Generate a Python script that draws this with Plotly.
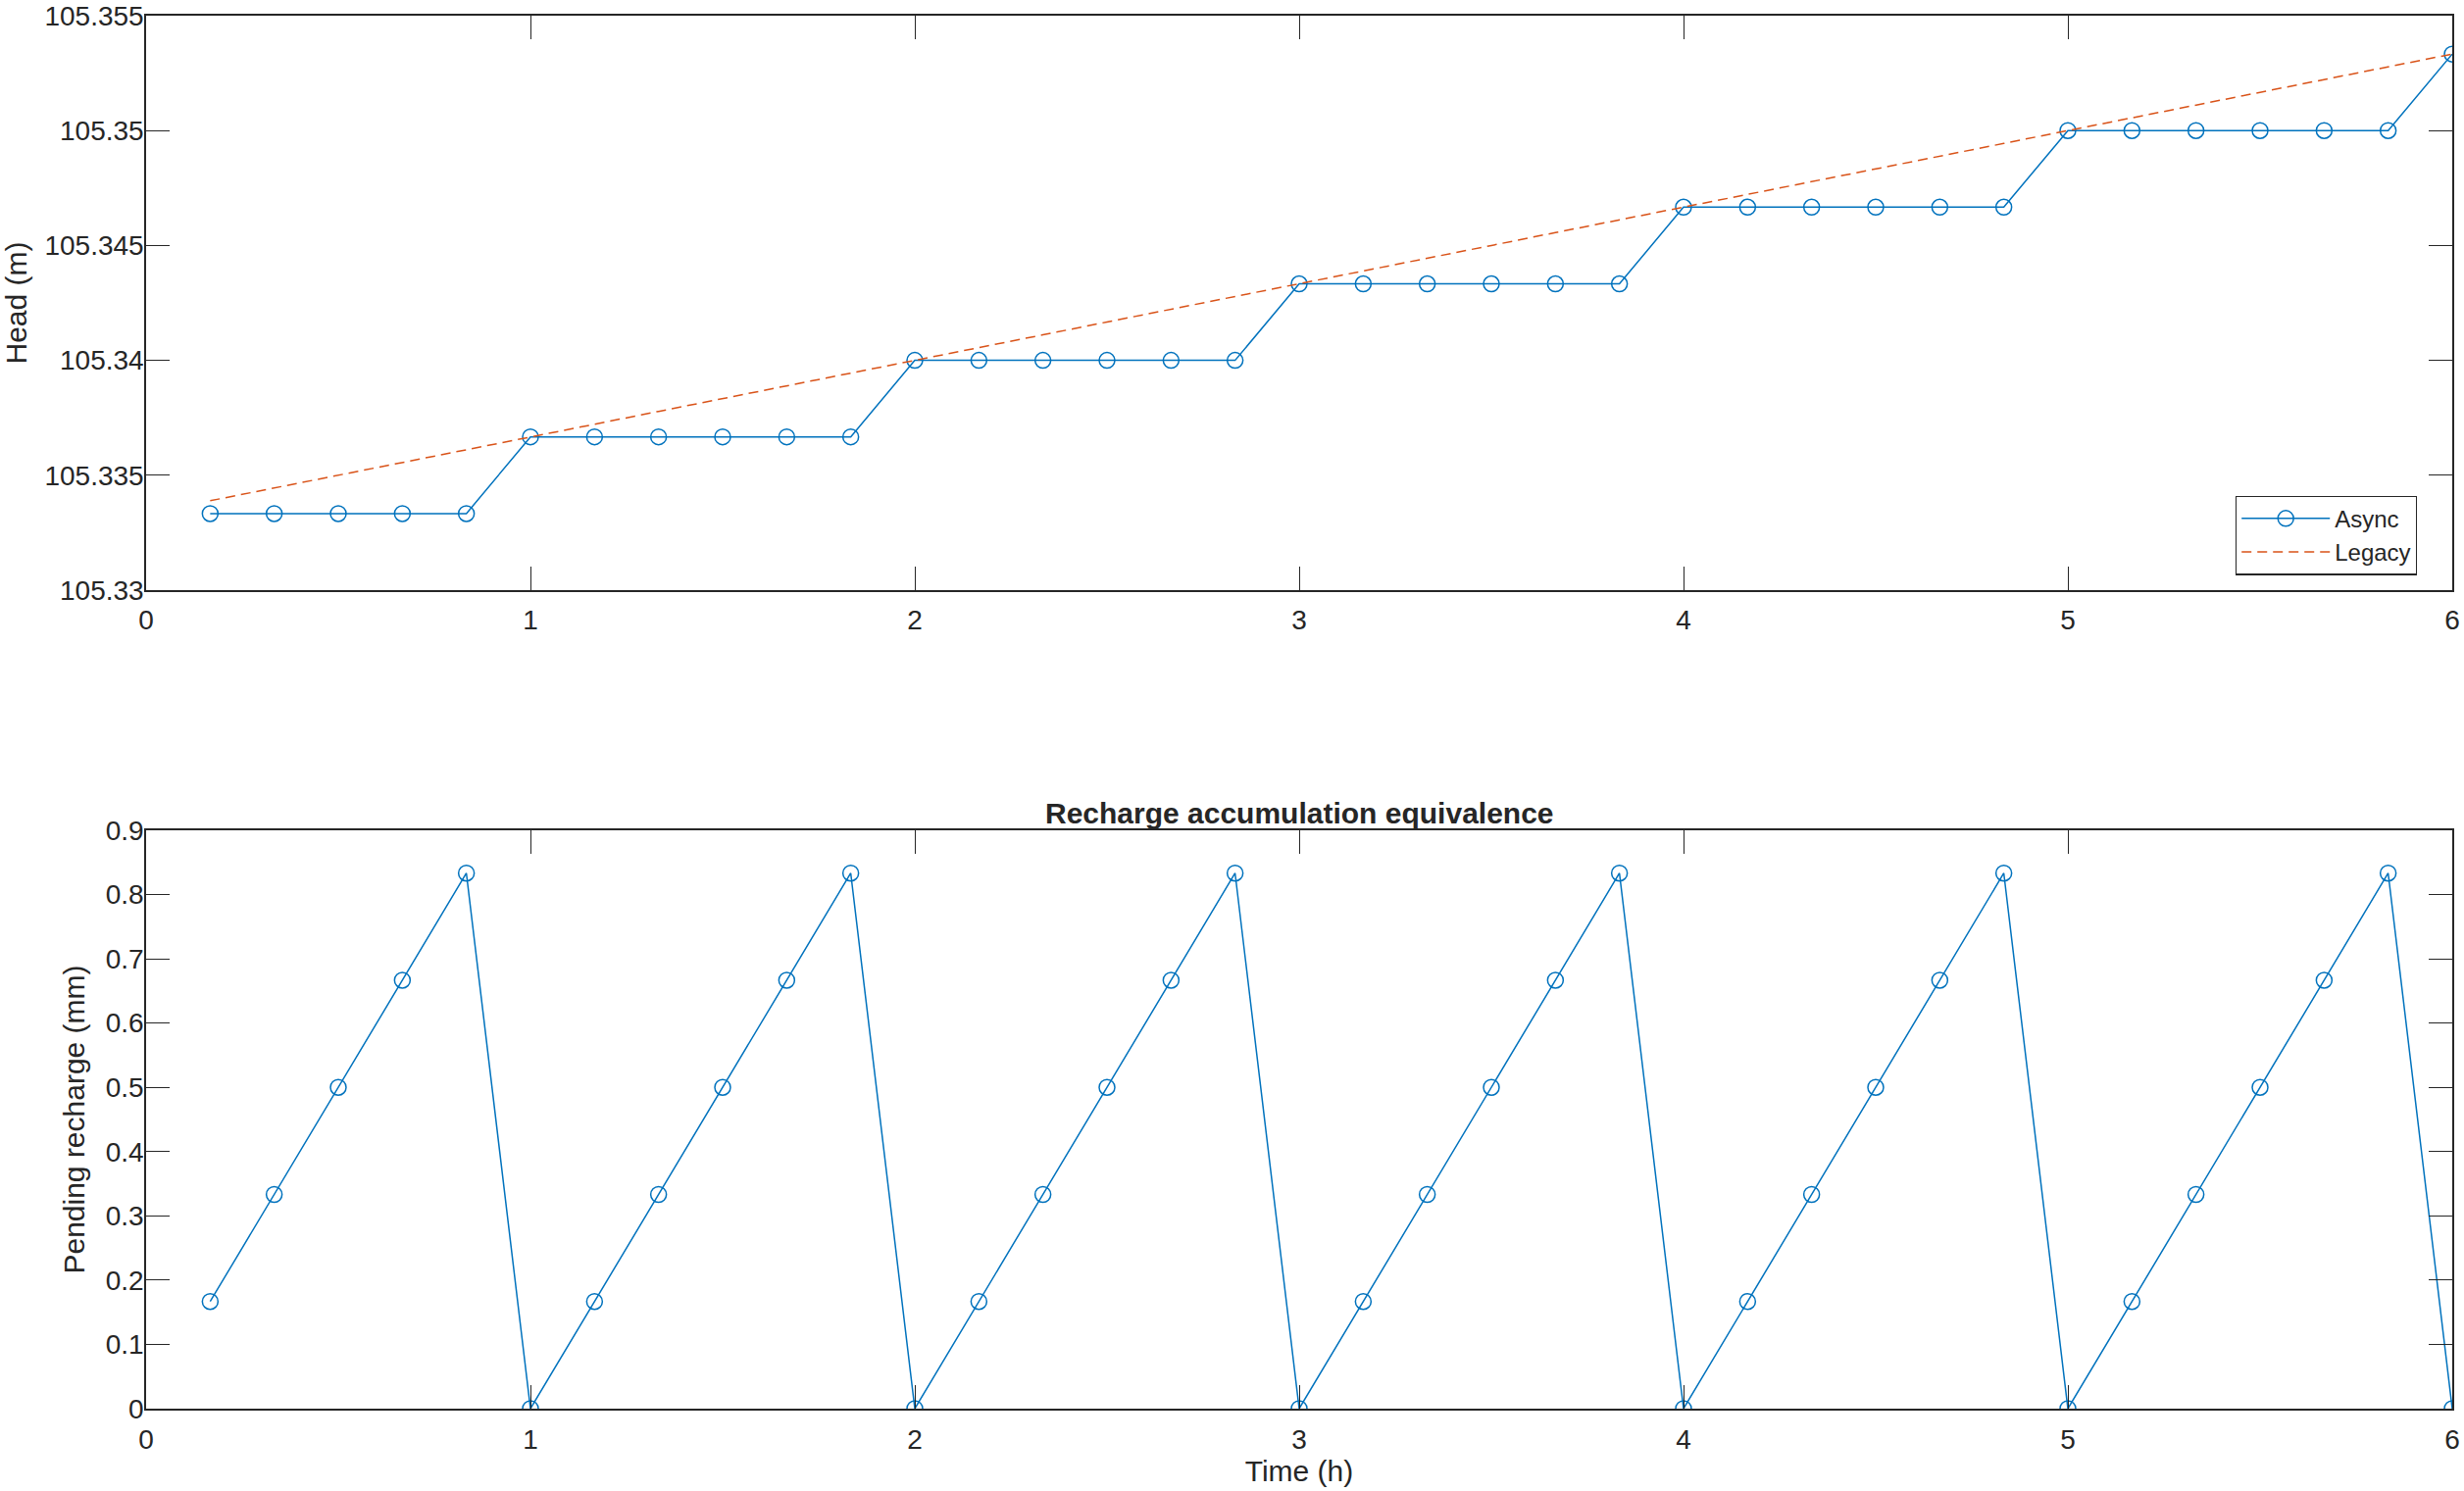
import plotly.graph_objects as go
from plotly.subplots import make_subplots

# time in hours, every 10 minutes
time_h = [0.1667, 0.3333, 0.5, 0.6667, 0.8333, 1.0,
          1.1667, 1.3333, 1.5, 1.6667, 1.8333, 2.0,
          2.1667, 2.3333, 2.5, 2.6667, 2.8333, 3.0,
          3.1667, 3.3333, 3.5, 3.6667, 3.8333, 4.0,
          4.1667, 4.3333, 4.5, 4.6667, 4.8333, 5.0,
          5.1667, 5.3333, 5.5, 5.6667, 5.8333, 6.0]

# head (m), async solver: steps once per hour
head_async = [105.33333, 105.33333, 105.33333, 105.33333, 105.33333, 105.33667,
              105.33667, 105.33667, 105.33667, 105.33667, 105.33667, 105.34,
              105.34, 105.34, 105.34, 105.34, 105.34, 105.34333,
              105.34333, 105.34333, 105.34333, 105.34333, 105.34333, 105.34667,
              105.34667, 105.34667, 105.34667, 105.34667, 105.34667, 105.35,
              105.35, 105.35, 105.35, 105.35, 105.35, 105.35333]

# head (m), legacy solver
head_legacy = [105.33389, 105.33444, 105.335, 105.33556, 105.33611, 105.33667,
               105.33722, 105.33778, 105.33833, 105.33889, 105.33944, 105.34,
               105.34056, 105.34111, 105.34167, 105.34222, 105.34278, 105.34333,
               105.34389, 105.34444, 105.345, 105.34556, 105.34611, 105.34667,
               105.34722, 105.34778, 105.34833, 105.34889, 105.34944, 105.35,
               105.35056, 105.35111, 105.35167, 105.35222, 105.35278, 105.35333]

# pending recharge (mm)
pending_mm = [0.1667, 0.3333, 0.5, 0.6667, 0.8333, 0,
              0.1667, 0.3333, 0.5, 0.6667, 0.8333, 0,
              0.1667, 0.3333, 0.5, 0.6667, 0.8333, 0,
              0.1667, 0.3333, 0.5, 0.6667, 0.8333, 0,
              0.1667, 0.3333, 0.5, 0.6667, 0.8333, 0,
              0.1667, 0.3333, 0.5, 0.6667, 0.8333, 0]

x_ticks = [0, 1, 2, 3, 4, 5, 6]
head_ticks = [105.33, 105.335, 105.34, 105.345, 105.35, 105.355]
head_tick_text = ["105.33", "105.335", "105.34", "105.345", "105.35", "105.355"]
pending_ticks = [0, 0.1, 0.2, 0.3, 0.4, 0.5, 0.6, 0.7, 0.8, 0.9]
pending_tick_text = ["0", "0.1", "0.2", "0.3", "0.4", "0.5", "0.6", "0.7", "0.8", "0.9"]

BLUE = "#0072BD"
ORANGE = "#D95319"
INK = "#262626"
FONT = "Liberation Sans, Arial, Helvetica, sans-serif"

fig = make_subplots(rows=2, cols=1)

fig.add_trace(go.Scatter(x=time_h, y=head_async, name="Async", mode="lines+markers",
                         line=dict(color=BLUE, width=1.5),
                         marker=dict(symbol="circle-open", size=16, color=BLUE,
                                     line=dict(width=1.5, color=BLUE))),
              row=1, col=1)
fig.add_trace(go.Scatter(x=time_h, y=head_legacy, name="Legacy", mode="lines",
                         line=dict(color=ORANGE, width=1.5, dash="10px,6px")),
              row=1, col=1)
fig.add_trace(go.Scatter(x=time_h, y=pending_mm, name="Pending", mode="lines+markers",
                         showlegend=False,
                         line=dict(color=BLUE, width=1.5),
                         marker=dict(symbol="circle-open", size=16, color=BLUE,
                                     line=dict(width=1.5, color=BLUE))),
              row=2, col=1)

axis_style = dict(showline=True, linecolor=INK, linewidth=1.5, mirror="ticks",
                  ticks="inside", ticklen=24, tickwidth=1.2, tickcolor=INK,
                  showgrid=False, zeroline=False, automargin=False,
                  ticklabeloverflow="allow",
                  tickfont=dict(size=28, color=INK, family=FONT))

fig.update_xaxes(axis_style)
fig.update_yaxes(axis_style)

# x axes
fig.update_xaxes(range=[0, 6], tickvals=x_ticks, domain=[0, 1], ticklabelstandoff=5, row=1, col=1)
fig.update_xaxes(range=[0, 6], tickvals=x_ticks, domain=[0, 1], ticklabelstandoff=6, row=2, col=1,
                 title=dict(text="Time (h)", font=dict(size=30, color=INK, family=FONT), standoff=7))
# y axes
fig.update_yaxes(range=[105.33, 105.355], tickvals=head_ticks, ticktext=head_tick_text,
                 domain=[0.5876, 1], ticklabelstandoff=-5, row=1, col=1,
                 title=dict(text="Head (m)", font=dict(size=30, color=INK, family=FONT), standoff=12))
fig.update_yaxes(range=[0, 0.9], tickvals=pending_ticks, ticktext=pending_tick_text,
                 domain=[0, 0.4152], ticklabelstandoff=-5, row=2, col=1,
                 title=dict(text="Pending recharge (mm)", font=dict(size=30, color=INK, family=FONT), standoff=12))

fig.add_annotation(text="<b>Recharge accumulation equivalence</b>", xref="paper", yref="paper",
                   x=0.5, y=0.4152, xanchor="center", yanchor="middle", yshift=18,
                   showarrow=False, font=dict(size=30, color=INK, family=FONT))

fig.update_layout(
    width=2513, height=1521,
    margin=dict(l=149, r=12, t=16, b=84),
    paper_bgcolor="white", plot_bgcolor="white",
    font=dict(family=FONT, color=INK, size=28),
    legend=dict(x=0.9847, y=0.5985, xanchor="right", yanchor="bottom",
                bgcolor="white", bordercolor=INK, borderwidth=1.2, itemwidth=90,
                font=dict(size=24, color=INK, family=FONT)),
)

# drop the page's default body margin so the figure fills the window exactly
fig.write_html("out.html", config={"displayModeBar": False},
               post_script="document.body.style.margin='0';")
